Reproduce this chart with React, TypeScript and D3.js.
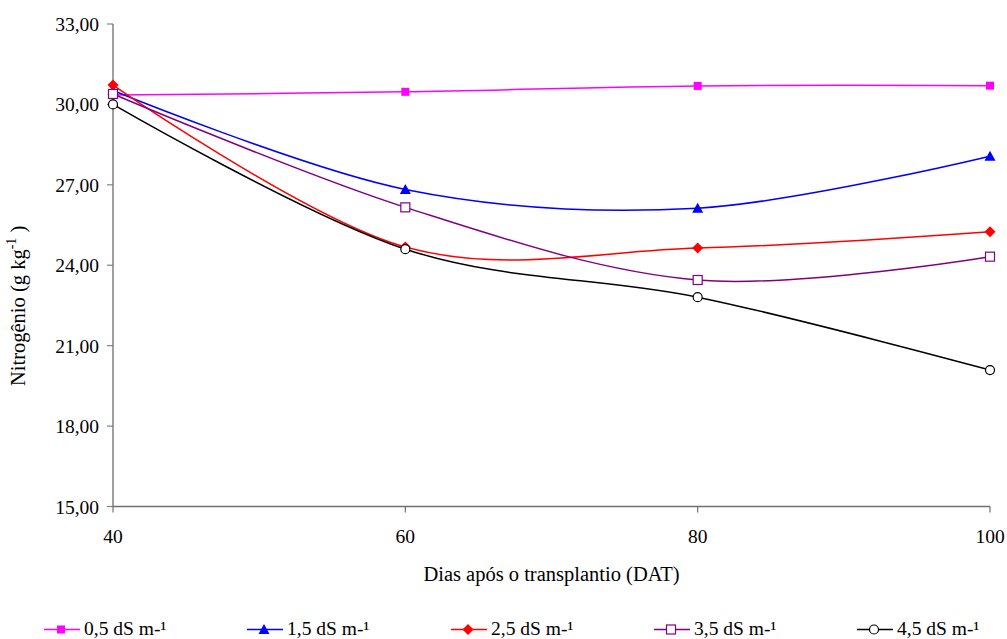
import React from "react";
import * as d3 from "d3";

const days = [40, 60, 80, 100];
const s05 = [30.35, 30.47, 30.69, 30.7];
const s15 = [30.52, 26.83, 26.13, 28.07];
const s25 = [30.72, 24.68, 24.64, 25.25];
const s35 = [30.39, 26.16, 23.45, 24.32];
const s45 = [30.0, 24.6, 22.81, 20.09];
const seriesNames = ["0,5 dS m-¹", "1,5 dS m-¹", "2,5 dS m-¹", "3,5 dS m-¹", "4,5 dS m-¹"];
const yTicks = [15, 18, 21, 24, 27, 30, 33];
const xTicks = [40, 60, 80, 100];

const colors = ["#FF00FF", "#0000FF", "#FF0000", "#800080", "#000000"];
const markerTypes = ["square", "triangle", "diamond", "opensquare", "circle"];
const FONT = "Liberation Serif";

function Marker({ type, x, y, color }: { type: string; x: number; y: number; color: string }) {
  if (type === "square") return <rect x={x - 4} y={y - 4} width={8} height={8} fill={color} />;
  if (type === "triangle")
    return <path d={`M${x},${y - 5.5} L${x + 5.5},${y + 4.5} L${x - 5.5},${y + 4.5} Z`} fill={color} />;
  if (type === "diamond")
    return <path d={`M${x},${y - 5.5} L${x + 5.5},${y} L${x},${y + 5.5} L${x - 5.5},${y} Z`} fill={color} />;
  if (type === "opensquare")
    return <rect x={x - 4.5} y={y - 4.5} width={9} height={9} fill="white" stroke={color} strokeWidth={1.2} />;
  return <circle cx={x} cy={y} r={4.5} fill="white" stroke={color} strokeWidth={1.2} />;
}

export default function App() {
  const x = d3.scaleLinear().domain([40, 100]).range([113, 990]);
  const y = d3.scaleLinear().domain([15, 33]).range([506.5, 24]);
  const data = [s05, s15, s25, s35, s45];
  const line = d3
    .line<number>()
    .x((_, i) => x(days[i]))
    .y((v) => y(v))
    .curve(d3.curveCardinal.tension(0));
  const legendX = [44, 247, 451, 654, 857];
  const tp = { fontFamily: FONT, fontSize: 19.5, fill: "#000" } as const;
  const tt = { fontFamily: FONT, fontSize: 20.5, fill: "#000" } as const;

  return (
    <div style={{ position: "absolute", left: 0, top: 0 }}>
      <svg width={1007} height={639} style={{ display: "block" }}>
        <rect width={1007} height={639} fill="white" />
        {/* y axis */}
        <line x1={113} x2={113} y1={y(33)} y2={y(15)} stroke="#808080" strokeWidth={1.5} />
        {yTicks.map((t) => (
          <g key={t}>
            <line x1={107} x2={113} y1={y(t)} y2={y(t)} stroke="#808080" strokeWidth={1.2} />
            <text x={99} y={y(t) + 7} textAnchor="end" style={tp}>
              {t.toFixed(2).replace(".", ",")}
            </text>
          </g>
        ))}
        {/* x axis */}
        <line x1={113} x2={990} y1={y(15)} y2={y(15)} stroke="#707070" strokeWidth={1.5} />
        {xTicks.map((t) => (
          <g key={t}>
            <line x1={x(t)} x2={x(t)} y1={y(15)} y2={y(15) + 6} stroke="#707070" strokeWidth={1.2} />
            <text x={x(t)} y={543} textAnchor="middle" style={tp}>
              {t}
            </text>
          </g>
        ))}
        <text x={551.5} y={581} textAnchor="middle" style={tt}>
          Dias após o transplantio (DAT)
        </text>
        <text transform="translate(25,386) rotate(-90)" textAnchor="start" style={tt}>
          Nitrogênio (g kg
          <tspan fontSize={14} dy={-9}>-1</tspan>
          <tspan dy={9}> )</tspan>
        </text>
        {/* series */}
        {data.map((s, i) => (
          <g key={i}>
            <path d={line(s) || ""} fill="none" stroke={colors[i]} strokeWidth={1.5} />
            {s.map((v, j) => (
              <Marker key={j} type={markerTypes[i]} x={x(days[j])} y={y(v)} color={colors[i]} />
            ))}
          </g>
        ))}
        {/* legend */}
        {seriesNames.map((n, i) => (
          <g key={n}>
            <line x1={legendX[i]} x2={legendX[i] + 36} y1={629.5} y2={629.5} stroke={colors[i]} strokeWidth={1.5} />
            <Marker type={markerTypes[i]} x={legendX[i] + 17} y={629.5} color={colors[i]} />
            <text x={legendX[i] + 40} y={635} style={tp}>
              {n}
            </text>
          </g>
        ))}
      </svg>
    </div>
  );
}
